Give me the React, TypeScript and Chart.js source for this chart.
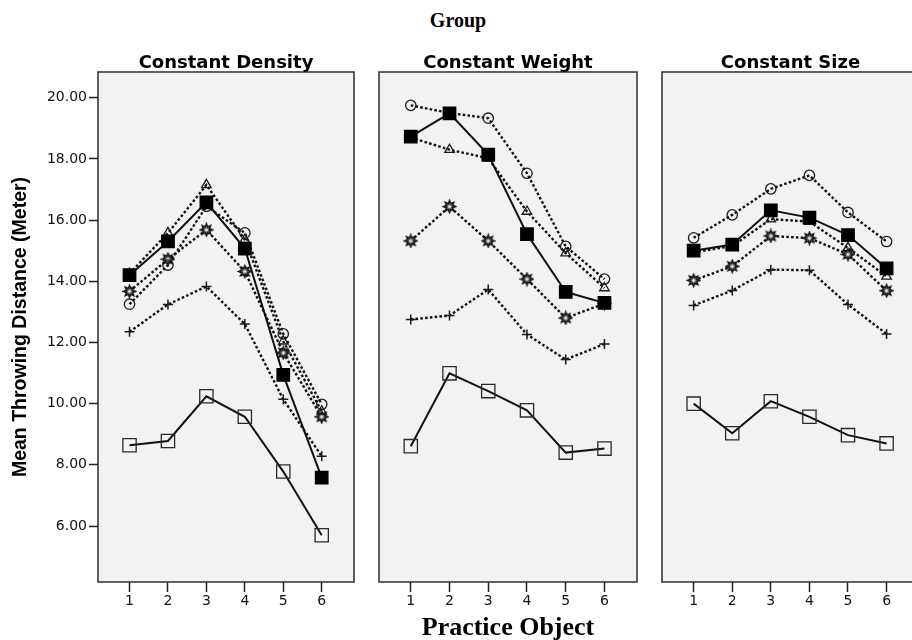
import React, { useEffect, useRef } from "react";
import { Chart, registerables } from "chart.js";

Chart.register(...registerables);

// Shared axes
const practiceObjects = [1, 2, 3, 4, 5, 6];
const yTickValues = [6, 8, 10, 12, 14, 16, 18, 20];
const panelTitles = ["Constant Density", "Constant Weight", "Constant Size"];

// Constant Density
const densityFilledSquare = [14.2, 15.3, 16.58, 15.07, 10.94, 7.58];
const densityOpenSquare = [8.64, 8.78, 10.24, 9.57, 7.78, 5.7];
const densityCircle = [13.25, 14.53, 16.45, 15.58, 12.28, 9.98];
const densityTriangle = [14.25, 15.58, 17.15, 15.36, 12.04, 9.75];
const densityStar = [13.67, 14.72, 15.68, 14.32, 11.66, 9.57];
const densityPlus = [12.35, 13.24, 13.83, 12.6, 10.14, 8.28];

// Constant Weight
const weightFilledSquare = [18.73, 19.49, 18.14, 15.54, 13.65, 13.29];
const weightOpenSquare = [8.61, 10.99, 10.41, 9.78, 8.4, 8.53];
const weightCircle = [19.75, 19.5, 19.33, 17.53, 15.14, 14.07];
const weightTriangle = [18.7, 18.3, 18.02, 16.28, 14.92, 13.78];
const weightStar = [15.32, 16.44, 15.32, 14.07, 12.8, 13.27];
const weightPlus = [12.75, 12.88, 13.73, 12.26, 11.44, 11.95];

// Constant Size
const sizeFilledSquare = [15.0, 15.2, 16.32, 16.08, 15.51, 14.42];
const sizeOpenSquare = [10.0, 9.03, 10.08, 9.57, 8.97, 8.7];
const sizeCircle = [15.42, 16.17, 17.02, 17.46, 16.25, 15.3];
const sizeTriangle = [14.95, 15.15, 16.03, 15.95, 15.09, 14.16];
const sizeStar = [14.03, 14.49, 15.48, 15.41, 14.88, 13.69];
const sizePlus = [13.21, 13.7, 14.38, 14.36, 13.24, 12.28];

type Marker = "filledSquare" | "openSquare" | "circle" | "triangle" | "star" | "plus";
type Series = { marker: Marker; values: number[] };

const panels: { title: string; series: Series[] }[] = [
  {
    title: panelTitles[0],
    series: [
      { marker: "filledSquare", values: densityFilledSquare },
      { marker: "openSquare", values: densityOpenSquare },
      { marker: "circle", values: densityCircle },
      { marker: "triangle", values: densityTriangle },
      { marker: "star", values: densityStar },
      { marker: "plus", values: densityPlus },
    ],
  },
  {
    title: panelTitles[1],
    series: [
      { marker: "filledSquare", values: weightFilledSquare },
      { marker: "openSquare", values: weightOpenSquare },
      { marker: "circle", values: weightCircle },
      { marker: "triangle", values: weightTriangle },
      { marker: "star", values: weightStar },
      { marker: "plus", values: weightPlus },
    ],
  },
  {
    title: panelTitles[2],
    series: [
      { marker: "filledSquare", values: sizeFilledSquare },
      { marker: "openSquare", values: sizeOpenSquare },
      { marker: "circle", values: sizeCircle },
      { marker: "triangle", values: sizeTriangle },
      { marker: "star", values: sizeStar },
      { marker: "plus", values: sizePlus },
    ],
  },
];

const PLOT_BG = "#f2f2f2";
const INK = "#111";
const SANS = '"DejaVu Sans", sans-serif';

function makeStarImage(): HTMLCanvasElement {
  const c = document.createElement("canvas");
  c.width = 15;
  c.height = 15;
  const g = c.getContext("2d")!;
  g.translate(7.5, 7.5);
  g.beginPath();
  const n = 8;
  for (let i = 0; i < 2 * n; i++) {
    const r = i % 2 === 0 ? 6 : 3.3;
    const a = (i * Math.PI) / n - Math.PI / 2;
    const px = Math.cos(a) * r;
    const py = Math.sin(a) * r;
    if (i === 0) g.moveTo(px, py);
    else g.lineTo(px, py);
  }
  g.closePath();
  g.fillStyle = "#6a6a6a";
  g.fill();
  g.lineWidth = 1.5;
  g.strokeStyle = INK;
  g.stroke();
  g.beginPath();
  g.arc(0, 0, 1.5, 0, Math.PI * 2);
  g.fillStyle = "#e8e8e8";
  g.fill();
  return c;
}

function datasetFor(s: Series, star: HTMLCanvasElement) {
  const data = practiceObjects.map((x, i) => ({ x, y: s.values[i] }));
  const solid = s.marker === "filledSquare" || s.marker === "openSquare";
  const base: any = {
    data,
    borderColor: INK,
    borderWidth: solid ? 2 : 2.4,
    borderDash: solid ? [] : [2.6, 2.2],
    tension: 0,
    fill: false,
    pointBorderColor: "#1a1a1a",
    pointBackgroundColor: "rgba(0,0,0,0)",
    pointBorderWidth: 1.3,
    pointHoverRadius: 0,
  };
  switch (s.marker) {
    case "filledSquare":
      return { ...base, pointStyle: "rect", pointRadius: 8.8, pointBackgroundColor: "#000", pointBorderColor: "#000" };
    case "openSquare":
      return { ...base, pointStyle: "rect", pointRadius: 9.4, pointBorderColor: "#2a2a2a" };
    case "circle":
      return { ...base, pointStyle: "circle", pointRadius: 5.2 };
    case "triangle":
      return { ...base, pointStyle: "triangle", pointRadius: 5.5 };
    case "star":
      return { ...base, pointStyle: star, pointRadius: 6 };
    case "plus":
      return { ...base, pointStyle: "cross", pointRadius: 5, pointBorderWidth: 1.5 };
  }
}

// Fills the plot area, outlines it and writes the panel heading above it.
const panelFrame = {
  id: "panelFrame",
  beforeDraw(chart: any, _args: any, opts: any) {
    const { ctx, chartArea } = chart;
    const { left, top, right, bottom } = chartArea;
    ctx.save();
    ctx.fillStyle = PLOT_BG;
    ctx.fillRect(left, top, right - left, bottom - top);
    ctx.lineWidth = 1.6;
    ctx.strokeStyle = "#3a3a3a";
    ctx.strokeRect(left, top, right - left, bottom - top);
    ctx.fillStyle = "#000";
    ctx.font = `bold 18px ${SANS}`;
    ctx.textAlign = "center";
    ctx.textBaseline = "alphabetic";
    ctx.fillText(opts.title, (left + right) / 2, top - 4);
    ctx.restore();
  },
};

type PanelProps = {
  title: string;
  series: Series[];
  left: number;
  width: number;
  padLeft: number;
  showY: boolean;
  showXTitle: boolean;
};

function Panel({ title, series, left, width, padLeft, showY, showXTitle }: PanelProps) {
  const ref = useRef<HTMLCanvasElement | null>(null);

  useEffect(() => {
    const canvas = ref.current;
    if (!canvas) return;
    const star = makeStarImage();
    const chart = new Chart(canvas, {
      type: "line",
      data: { datasets: series.map((s) => datasetFor(s, star)) as any },
      options: {
        animation: false,
        responsive: false,
        maintainAspectRatio: false,
        events: [],
        layout: { autoPadding: false, padding: { top: 72, left: padLeft, right: 4, bottom: 0 } },
        plugins: {
          legend: { display: false },
          tooltip: { enabled: false },
          title: { display: false },
          panelFrame: { title },
        } as any,
        scales: {
          x: {
            type: "linear",
            min: 0.18,
            max: 6.84,
            afterBuildTicks: (s: any) => {
              s.ticks = practiceObjects.map((v) => ({ value: v }));
            },
            afterFit: (s: any) => {
              s.height = 68;
              s.paddingLeft = 0;
              s.paddingRight = 0;
            },
            border: { display: false },
            grid: { drawOnChartArea: false, tickLength: 10, tickColor: "#222", tickWidth: 1.5 },
            ticks: {
              padding: 1,
              color: INK,
              autoSkip: false,
              maxRotation: 0,
              font: { family: SANS, size: 14 },
              callback: (v: any) => String(v),
            },
            title: {
              display: showXTitle,
              text: "Practice Object",
              color: "#000",
              font: { family: '"Liberation Serif", serif', size: 26, weight: "bold" },
              padding: { top: 0, bottom: 6 },
            },
          },
          y: {
            type: "linear",
            display: showY,
            min: 4.17,
            max: 20.84,
            afterBuildTicks: (s: any) => {
              s.ticks = yTickValues.map((v) => ({ value: v }));
            },
            afterFit: (s: any) => {
              if (showY) s.width = 98;
              s.paddingTop = 0;
              s.paddingBottom = 0;
            },
            border: { display: false },
            grid: { drawOnChartArea: false, tickLength: 9, tickColor: "#222", tickWidth: 1.5 },
            ticks: {
              padding: 2,
              color: INK,
              font: { family: SANS, size: 14 },
              callback: (v: any) => Number(v).toFixed(2),
            },
            title: {
              display: showY,
              text: "Mean Throwing Distance (Meter)",
              color: "#000",
              font: { family: '"Liberation Sans", sans-serif', size: 19.5, weight: "bold" },
              padding: { top: 8.5, bottom: 0 },
            },
          },
        },
      } as any,
      plugins: [panelFrame as any],
    });
    return () => chart.destroy();
  }, [title, series, padLeft, showY, showXTitle]);

  return (
    <canvas
      ref={ref}
      width={width}
      height={650}
      style={{ position: "absolute", left, top: 0, width, height: 650, display: "block" }}
    />
  );
}

export default function App() {
  return (
    <div
      style={{
        position: "absolute",
        left: 0,
        top: 0,
        width: 912,
        height: 640,
        overflow: "hidden",
        background: "#fff",
      }}
    >
      <div
        style={{
          position: "absolute",
          left: 0,
          width: 916,
          top: 9,
          textAlign: "center",
          font: 'bold 20px "Liberation Serif", serif',
          lineHeight: "22px",
          color: "#000",
        }}
      >
        Group
      </div>
      <Panel {...panels[0]} left={0} width={358} padLeft={0} showY={true} showXTitle={false} />
      <Panel {...panels[1]} left={375} width={266} padLeft={4} showY={false} showXTitle={true} />
      <Panel {...panels[2]} left={658} width={265} padLeft={4} showY={false} showXTitle={false} />
    </div>
  );
}
